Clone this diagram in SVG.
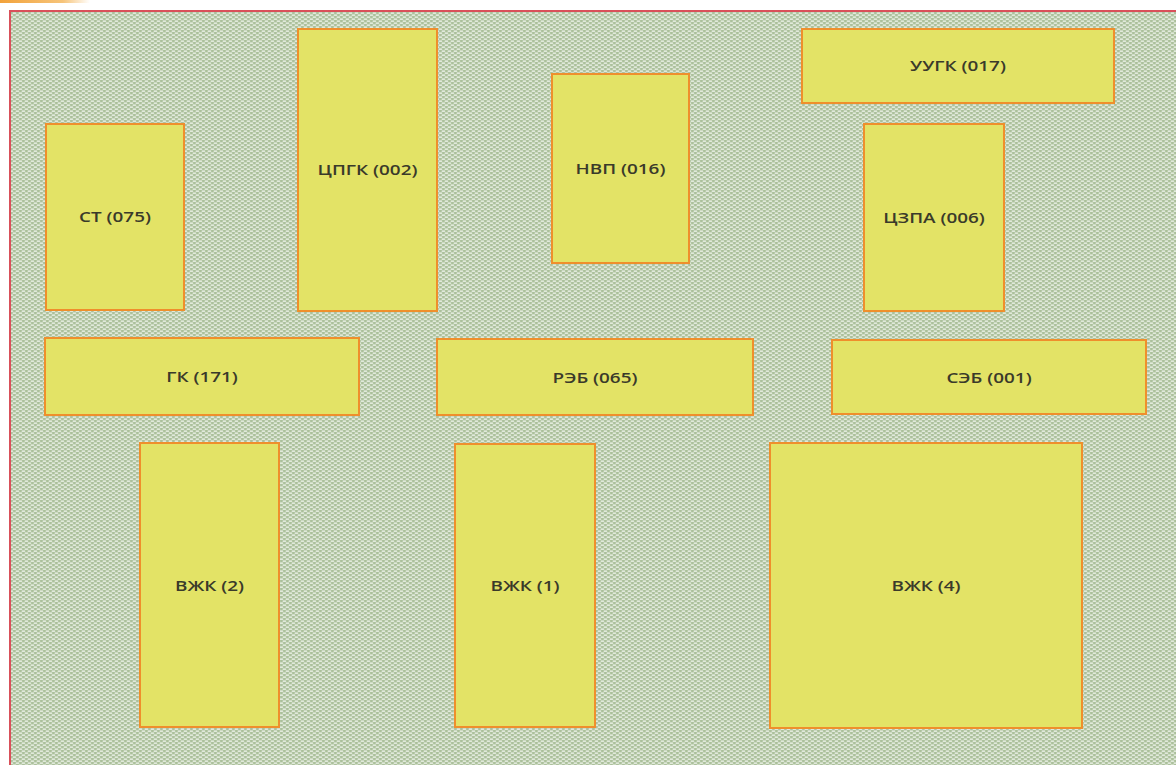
<svg xmlns="http://www.w3.org/2000/svg" width="1176" height="765" viewBox="0 0 1176 765">
<defs>
<pattern id="hatch" width="6" height="4" patternUnits="userSpaceOnUse">
<rect width="6" height="4" fill="#abc09b"/>
<rect x="0.5" y="0.4" width="3.8" height="1.4" rx="0.7" fill="#f3f7f0"/>
<rect x="3.5" y="2.4" width="3.8" height="1.4" rx="0.7" fill="#f3f7f0"/>
<rect x="-2.5" y="2.4" width="3.8" height="1.4" rx="0.7" fill="#f3f7f0"/>
</pattern>
<linearGradient id="topbar" x1="0" x2="1" y1="0" y2="0">
<stop offset="0" stop-color="#f2a23a"/>
<stop offset="0.7" stop-color="#f6c47a"/>
<stop offset="1" stop-color="#ffffff"/>
</linearGradient>
</defs>
<style>
.node rect{fill:#e3e366;stroke:#ef8f2c;stroke-width:2}
.node text{font-family:"Open Sans","Liberation Sans",sans-serif;font-size:13.5px;font-weight:600;fill:#3a3a2a;text-anchor:middle;dominant-baseline:central}
</style>
<rect width="1176" height="765" fill="#ffffff"/>
<rect x="0" y="0" width="90" height="3" fill="url(#topbar)"/>
<rect x="10" y="11" width="1180" height="760" fill="url(#hatch)" stroke="#d9505a" stroke-width="2"/>
<g id="connectors"></g>
<g id="node-st" class="node"><rect x="46" y="124" width="138" height="186"/><text transform="translate(115,217) scale(1.4,1)">СТ (075)</text></g>
<g id="node-cpgk" class="node"><rect x="298" y="29" width="139" height="282"/><text transform="translate(367.5,170) scale(1.4,1)">ЦПГК (002)</text></g>
<g id="node-nvp" class="node"><rect x="552" y="74" width="137" height="189"/><text transform="translate(620.5,169) scale(1.4,1)">НВП (016)</text></g>
<g id="node-uugk" class="node"><rect x="802" y="29" width="312" height="74"/><text transform="translate(958,66) scale(1.4,1)">УУГК (017)</text></g>
<g id="node-czpa" class="node"><rect x="864" y="124" width="140" height="187"/><text transform="translate(934,217.5) scale(1.4,1)">ЦЗПА (006)</text></g>
<g id="node-gk" class="node"><rect x="45" y="338" width="314" height="77"/><text transform="translate(202,377) scale(1.4,1)">ГК (171)</text></g>
<g id="node-reb" class="node"><rect x="437" y="339" width="316" height="76"/><text transform="translate(595,377.5) scale(1.4,1)">РЭБ (065)</text></g>
<g id="node-seb" class="node"><rect x="832" y="340" width="314" height="74"/><text transform="translate(989,377.5) scale(1.4,1)">СЭБ (001)</text></g>
<g id="node-vzhk2" class="node"><rect x="140" y="443" width="139" height="284"/><text transform="translate(209.5,586) scale(1.4,1)">ВЖК (2)</text></g>
<g id="node-vzhk1" class="node"><rect x="455" y="444" width="140" height="283"/><text transform="translate(525,586) scale(1.4,1)">ВЖК (1)</text></g>
<g id="node-vzhk4" class="node"><rect x="770" y="443" width="312" height="285"/><text transform="translate(926,586) scale(1.4,1)">ВЖК (4)</text></g>
</svg>
